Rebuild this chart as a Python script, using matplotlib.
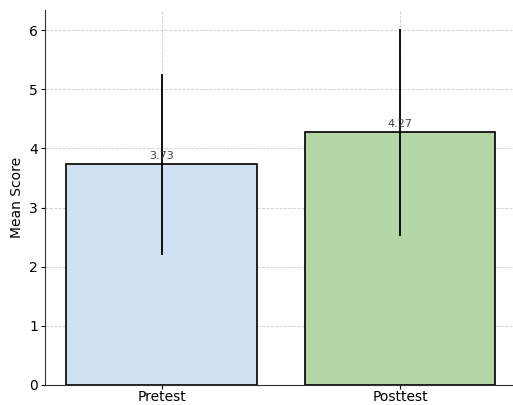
import matplotlib
matplotlib.use("Agg")
import matplotlib.pyplot as plt

categories = ["Pretest", "Posttest"]
means = [3.73, 4.27]
errors = [1.53, 1.75]
colors = ["#cfe0f2", "#b5d6a6"]

fig = plt.figure(figsize=(5.13, 4.05), dpi=100)
ax = fig.add_axes([0.0877, 0.0494, 0.92, 0.926])

x = list(range(len(categories)))
ax.bar(x, means, width=0.8, color=colors, edgecolor="black", linewidth=1.2,
       yerr=errors, error_kw=dict(ecolor="black", elinewidth=1.3, capsize=0), zorder=2)
for xi, m in zip(x, means):
    ax.text(xi, m + 0.05, f"{m:.2f}", ha="center", va="bottom", fontsize=8, color="#444444", zorder=3)

ax.set_xlim(-0.49, 1.49)
ax.set_ylim(0, 6.34)
ax.set_xticks(x)
ax.set_xticklabels(categories, fontsize=10)
ax.set_yticks(range(0, 7))
ax.tick_params(axis="y", labelsize=10, length=3, pad=2)
ax.tick_params(axis="x", length=3, pad=0.5)
ax.set_ylabel("Mean Score", fontsize=10, labelpad=4)
ax.grid(True, linestyle="--", color="#cccccc", linewidth=0.6, zorder=0)
ax.set_axisbelow(True)
for s in ["top", "right"]:
    ax.spines[s].set_visible(False)
ax.spines["left"].set_color("#333333")
ax.spines["bottom"].set_color("#333333")

fig.savefig("out.png", dpi=100)
